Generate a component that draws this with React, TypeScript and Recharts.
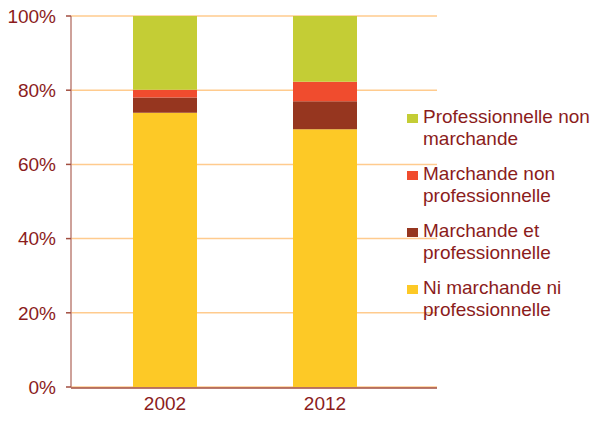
import React from 'react';
import { BarChart, Bar, XAxis, YAxis, CartesianGrid } from 'recharts';

const years = ['2002', '2012'];
const niMarchandeNiPro = [73.9, 69.5];
const marchandeEtPro = [4.1, 7.5];
const marchandeNonPro = [2.1, 5.3];
const proNonMarchande = [19.9, 17.7];
const yTicks = [0, 20, 40, 60, 80, 100];

const series = [
  { key: 'ni', name: 'Ni marchande ni professionnelle', color: '#FDC926', values: niMarchandeNiPro },
  { key: 'mp', name: 'Marchande et professionnelle', color: '#96361F', values: marchandeEtPro },
  { key: 'mnp', name: 'Marchande non professionnelle', color: '#F04C2E', values: marchandeNonPro },
  { key: 'pnm', name: 'Professionnelle non marchande', color: '#C4CD35', values: proNonMarchande },
];

const data = years.map((y, i) => {
  const row: Record<string, any> = { year: y, idx: i + 0.5 };
  series.forEach((s) => { row[s.key] = s.values[i]; });
  return row;
});

const legendLines: Record<string, string[]> = {
  pnm: ['Professionnelle non', 'marchande'],
  mnp: ['Marchande non', 'professionnelle'],
  mp: ['Marchande et', 'professionnelle'],
  ni: ['Ni marchande ni', 'professionnelle'],
};

const TEXT = '#8B1C1C';
const FONT = 'Liberation Sans, Arial, sans-serif';

const LegendBox = () => (
  <div
    style={{
      position: 'absolute',
      left: 407,
      top: 106,
      width: 185,
      fontFamily: FONT,
      fontSize: 19,
      color: TEXT,
      lineHeight: '22px',
    }}
  >
    {[...series].reverse().map((s) => (
      <div key={s.key} style={{ display: 'flex', alignItems: 'flex-start', marginBottom: 13 }}>
        <div style={{ width: 11, height: 9, background: s.color, marginTop: 8, marginRight: 5, flexShrink: 0 }} />
        <div style={{ whiteSpace: 'nowrap' }}>
          {legendLines[s.key].map((l) => (
            <div key={l}>{l}</div>
          ))}
        </div>
      </div>
    ))}
  </div>
);

export default function App() {
  return (
    <div style={{ position: 'absolute', left: 0, top: 0, width: 592, height: 421, background: '#fff' }}>
      <BarChart
        width={592}
        height={421}
        data={data}
        margin={{ top: 16, right: 155, left: 0, bottom: 4 }}
        barCategoryGap={0}
      >
        <CartesianGrid xAxisId="cat" horizontal vertical={false} stroke="#FFCB8E" strokeWidth={1.5} />
        <XAxis
          xAxisId="cat"
          dataKey="year"
          height={1}
          axisLine={false}
          tickLine={false}
          tickSize={5}
          tickMargin={5}
          padding={{ left: 14, right: 32 }}
          tick={{ fill: TEXT, fontSize: 19, fontFamily: FONT }}
        />
        <XAxis
          xAxisId="lines"
          dataKey="idx"
          type="number"
          domain={[0, 2]}
          ticks={[0, 1, 2]}
          tick={false}
          tickSize={5}
          height={29}
          axisLine={{ stroke: '#A24E40', strokeWidth: 1.5 }}
          tickLine={{ stroke: '#A24E40', strokeWidth: 1.5 }}
        />
        <YAxis
          width={71}
          domain={[0, 100]}
          ticks={yTicks}
          interval={0}
          tickFormatter={(v: number) => `${v}%`}
          tickSize={5}
          tickMargin={10}
          axisLine={{ stroke: '#BE8278', strokeWidth: 1.5 }}
          tickLine={{ stroke: '#A24E40', strokeWidth: 1.5 }}
          tick={{ fill: TEXT, fontSize: 19, fontFamily: FONT }}
        />
        {series.map((s) => (
          <Bar
            key={s.key}
            xAxisId="cat"
            dataKey={s.key}
            name={s.name}
            stackId="a"
            fill={s.color}
            barSize={64}
            isAnimationActive={false}
          />
        ))}
      </BarChart>
      <LegendBox />
    </div>
  );
}
